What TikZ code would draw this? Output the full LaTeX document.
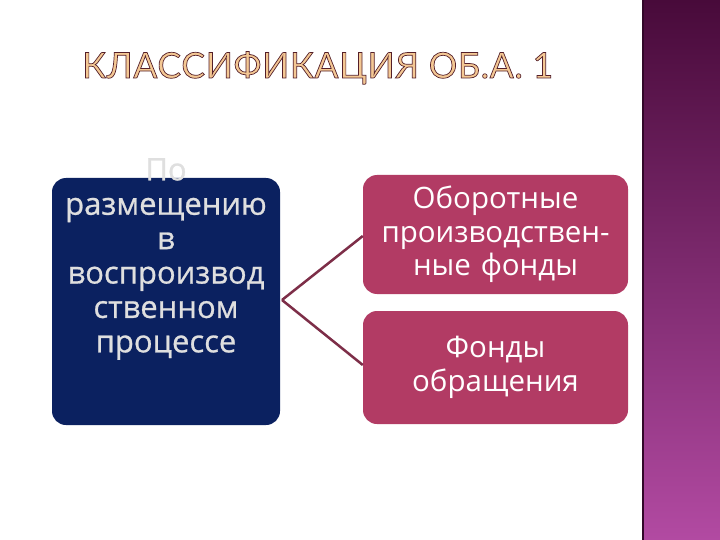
\documentclass[tikz,border=0pt]{standalone}
\usepackage{fontspec}
\setmainfont{Open Sans}
\newfontfamily\leftfont[FakeBold=0.8]{Open Sans}
\newfontfamily\titlefont[LetterSpace=2]{Lato}
\definecolor{navy}{HTML}{0B2160}
\definecolor{rose}{HTML}{B23B64}
\definecolor{linkc}{HTML}{7D2E48}
\definecolor{stripTop}{HTML}{480A3A}
\definecolor{stripBot}{HTML}{B24AA2}
\definecolor{titlefill}{HTML}{F4C894}
\newcommand\outlinetext[1]{\special{pdf:literal direct 2 Tr 0.7 w 0.33 0.12 0.16 RG}#1\special{pdf:literal direct 0 Tr}}
\tikzset{
  leftbox/.style={fill=navy, rounded corners=14pt, draw=none},
  rightbox/.style={fill=rose, rounded corners=14pt, draw=none, minimum width=265pt, text width=260pt, align=center, text=white, font=\fontsize{29.5}{33.5}\selectfont, inner sep=0pt},
  link/.style={draw=linkc, line width=2.5pt},
}
\begin{document}
\begin{tikzpicture}[x=1pt,y=-1pt]
\useasboundingbox (0,0) rectangle (720,540);
\fill[white] (0,0) rectangle (720,540);
% right strip
\shade[top color=stripTop, bottom color=stripBot] (643,0) rectangle (720,540);
\fill[stripTop!70!black] (642,0) rectangle (644,540);
% title
\node[font=\titlefont\fontsize{35.5}{40}\selectfont, text=titlefill, anchor=base west, inner sep=0pt] (title) at (82,78) {\outlinetext{КЛАССИФИКАЦИЯ ОБ.А. 1}};
% left box
\node[leftbox, minimum width=228pt, minimum height=247pt, inner sep=0pt] (src) at (166,301.5) {};
\node[text=gray!25, font=\leftfont\fontsize{31}{34.4}\selectfont, align=center] (srctext) at (166,259) {По\\размещению\\в\\воспроизвод\\ственном\\процессе};
% right boxes
\node[rightbox, minimum height=119pt] (a) at (495.5,234.5) {Оборотные\\производствен-\\ные фонды};
\node[rightbox, minimum height=113pt] (b) at (495.5,367.5) {Фонды\\обращения};
% connectors
\coordinate (j) at (282,300);
\draw[link] (j) -- (a.west |- 0,236) ;
\draw[link] (j) -- (b.west |- 0,365);
\end{tikzpicture}
\end{document}
